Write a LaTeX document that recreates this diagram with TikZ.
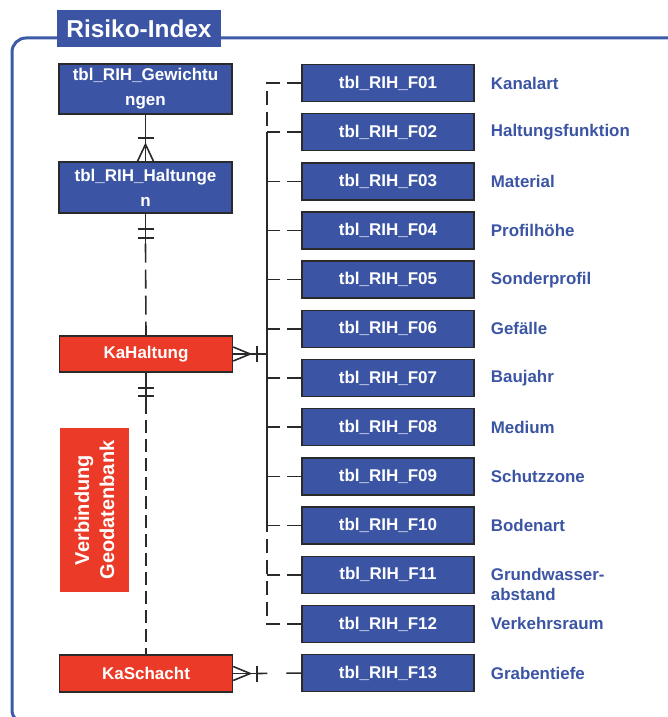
\documentclass[tikz,border=0pt]{standalone}
\usepackage{fontspec}
\setmainfont{Liberation Sans}
\usetikzlibrary{calc}
\definecolor{tblblue}{HTML}{3B55A4}
\definecolor{kared}{HTML}{EB3B28}
\definecolor{linegray}{HTML}{2A2A2A}
\definecolor{frameblue}{HTML}{3E5BAA}

\begin{document}
\begin{tikzpicture}[x=1pt,y=-1pt,
  tblbox/.style={draw=linegray, line width=1.4pt, fill=tblblue, text=white,
    font=\bfseries\fontsize{17}{25}\selectfont, minimum width=172pt,
    minimum height=37pt, inner sep=0pt, align=center},
  redbox/.style={tblbox, fill=kared},
  lab/.style={text=tblblue, font=\bfseries\fontsize{16.9}{20}\selectfont,
    align=left, inner sep=0pt, anchor=west},
  conn/.style={draw=linegray, line width=1.6pt},
  dsh/.style={conn, dash pattern=on 14pt off 7pt}
]
\useasboundingbox (0,0) rectangle (667,717);

% outer frame and title tab
\draw[frameblue, line width=3pt, rounded corners=14pt]
  (690,38) -- (12,38) -- (12,724) -- (690,724);
\node[fill=tblblue, text=white, minimum width=164pt, minimum height=37pt,
  inner sep=0pt, font=\bfseries\fontsize{24.4}{28}\selectfont]
  (title) at (139,28.5) {Risiko-Index};

% left column
\node[tblbox, minimum width=173pt, minimum height=50pt] (gew) at (145.5,89)
  {tbl\_RIH\_Gewichtu\\ngen};
\node[tblbox, minimum width=173pt, minimum height=51pt] (hal) at (145.5,187.5)
  {tbl\_RIH\_Haltunge\\n};
\node[redbox, minimum width=173pt, minimum height=36pt] (kah) at (146,354) {KaHaltung};
\node[redbox, minimum width=173pt, minimum height=37pt] (kas) at (146,673.5) {KaSchacht};
\node[fill=kared, text=white, rotate=90, minimum width=164pt, minimum height=69pt,
  inner sep=0pt, align=center, font=\bfseries\fontsize{20}{25}\selectfont]
  (geo) at (94.5,510) {Verbindung\\Geodatenbank};

% factor tables and their labels
\foreach \lab/\dy [count=\i] in {Kanalart/0, Haltungsfunktion/0, Material/0,
    Profilhöhe/0, Sonderprofil/0, Gefälle/0, Baujahr/0, Medium/0, Schutzzone/0,
    Bodenart/0, {Grundwasser-\\abstand}/10, Verkehrsraum/0, Grabentiefe/0} {
  \node[tblbox] (F\i) at (388,{83+(\i-1)*49.17}) {tbl\_RIH\_F\ifnum\i<10 0\fi\i};
  \node[lab] (L\i) at ($(F\i.east)+(16,\dy)$) {\lab};
}

% Gewichtungen -- Haltungen (one to many)
\draw[conn] (gew.south) -- (hal.north);
\draw[conn] ($(gew.south)+(-8,23)$) -- ($(gew.south)+(8,23)$);
\draw[conn] ($(hal.north)+(-8,0)$) -- ($(hal.north)+(0,-17)$) -- ($(hal.north)+(8,0)$);

% Haltungen -- KaHaltung (one to one)
\draw[conn] (hal.south) -- ++(0,30) coordinate (h1);
\draw[conn] ($(hal.south)+(-8,15)$) -- ++(16,0);
\draw[conn] ($(hal.south)+(-8,24)$) -- ++(16,0);
\draw[conn, dash pattern=on 19pt off 7pt] (h1) -- (kah.north);

% KaHaltung -- KaSchacht
\draw[conn] (kah.south) -- ++(0,28) coordinate (k1);
\draw[conn] ($(kah.south)+(-8,15)$) -- ++(16,0);
\draw[conn] ($(kah.south)+(-8,23)$) -- ++(16,0);
\draw[conn, dash pattern=on 13pt off 6pt] (k1) -- (kas.north);

% KaHaltung -- factor tables (many to one)
\coordinate (tk) at (267,0);
\draw[conn] (kah.east) -- (kah.east -| tk);
\draw[conn] ($(kah.east)+(0,-7)$) -- ($(kah.east)+(17,0)$) -- ($(kah.east)+(0,7)$);
\draw[conn] ($(kah.east)+(24,-8)$) -- ++(0,16);
\draw[conn] (F2.west -| tk) -- (F10.west -| tk);
\draw[dsh] (F1.west) -- (F1.west -| tk) -- (F2.west -| tk);
\draw[dsh] (F12.west) -- (F12.west -| tk) -- (F10.west -| tk);
\foreach \i in {2,...,11} \draw[dsh] (F\i.west) -- (F\i.west -| tk);

% KaSchacht -- F13
\draw[conn] (kas.east) -- ++(24,0) coordinate (s1);
\draw[conn] ($(kas.east)+(0,-7)$) -- ($(kas.east)+(17,0)$) -- ($(kas.east)+(0,7)$);
\draw[conn] ($(kas.east)+(24,-8)$) -- ++(0,16);
\draw[conn, dash pattern=on 15pt off 19pt] (F13.west) -- (s1);
\end{tikzpicture}
\end{document}
